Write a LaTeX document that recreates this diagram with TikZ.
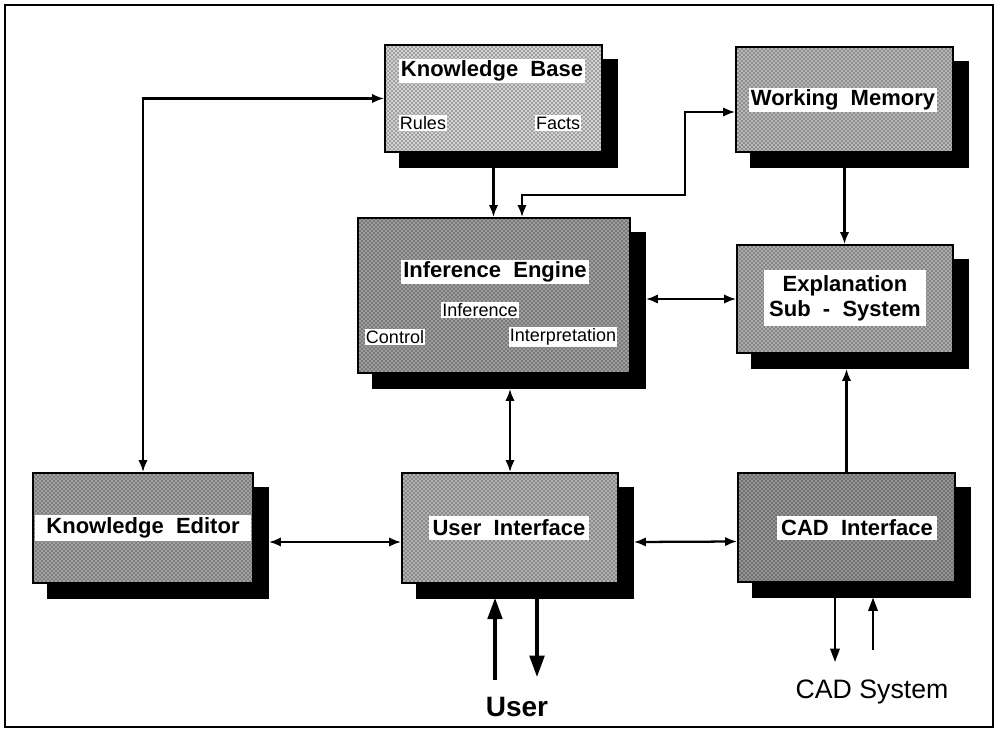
\documentclass[tikz,border=0pt]{standalone}
\usepackage{fontspec}
\setmainfont{Liberation Sans}
\usetikzlibrary{arrows.meta,patterns,backgrounds}
\begin{document}
\begin{tikzpicture}[x=0.75pt,y=-0.75pt,
  box/.style={draw=black,line width=1.3pt,preaction={fill=black!#1},pattern=crosshatch dots,pattern color=black,inner sep=0pt},
  box/.default=30,
  title/.style={fill=white,inner sep=1.5pt,font=\bfseries\fontsize{16.5}{19}\selectfont},
  sub/.style={fill=white,inner sep=1pt,font=\fontsize{13.5}{15}\selectfont},
  conn/.style={line width=1.7pt,-{Latex[length=9pt,width=7pt]}},
  conn2/.style={line width=1.7pt,{Latex[length=9pt,width=7pt]}-{Latex[length=9pt,width=7pt]}},
  big/.style={line width=2.4pt,-{Triangle[length=16pt,width=11pt]}},
  small/.style={line width=1.6pt,-{Triangle[length=10pt,width=7pt]}},
  lab/.style={inner sep=0pt}]
\useasboundingbox (0,0) rectangle (998,731);
\draw[line width=1.1pt] (5,5) rectangle (993,727);

% boxes
\node[box=18,minimum width=162.75pt,minimum height=80.25pt] (kb) at (493.5,98.5) {};
\node[box=28,minimum width=162.75pt,minimum height=78.75pt] (wm) at (844.5,99.5) {};
\node[box=38,minimum width=204pt,minimum height=116.25pt] (ie) at (494,295.5) {};
\node[box=32,minimum width=162pt,minimum height=81pt] (ex) at (845,299) {};
\node[box=36,minimum width=165pt,minimum height=82.5pt] (ke) at (143,528) {};
\node[box=30,minimum width=162pt,minimum height=82.5pt] (ui) at (510,528) {};
\node[box=42,minimum width=162.75pt,minimum height=81.75pt] (cad) at (846.5,527.5) {};

% shadows
\begin{scope}[on background layer]
\foreach \n in {kb,wm,ie,ex,ke,ui,cad}
  \fill[black] ([xshift=11.25pt,yshift=-11.25pt]\n.south west) rectangle ([xshift=11.25pt,yshift=-11.25pt]\n.north east);
\end{scope}

% texts
\node[title] (kbt) at (492,71) {Knowledge\ \ Base};
\node[sub] (kbr) at (423,123) {Rules};
\node[sub] (kbf) at (558,123) {Facts};
\node[title] (wmt) at (843,100) {Working\ \ Memory};
\node[title] (iet) at (495,272) {Inference\ \ Engine};
\node[sub] (iei) at (480,310) {Inference};
\node[sub] (iec) at (395,337) {Control};
\node[sub] (iep) at (563,337) {Interpretation};
\node[title,align=center,inner sep=4pt] (ext) at (845,298) {Explanation\\Sub\ \ -\ \ System};
\node[title,minimum width=162pt,inner sep=2pt] (ket) at (143,528) {Knowledge\ \ Editor};
\node[title,inner sep=3pt] (uit) at (509,528) {User\ \ Interface};
\node[title,inner sep=3pt] (cadt) at (857,528) {CAD\ \ Interface};
\node[lab,font=\bfseries\fontsize{21}{24}\selectfont] (user) at (517,707) {User};
\node[lab,font=\fontsize{20}{24}\selectfont] (cads) at (872,692) {CAD System};

% connectors
\draw[conn2] (kb.west) -| (ke.north);
\draw[conn] (kb.south) -- (kb.south |- ie.north);
\coordinate (j1) at (685,195);
\draw[conn2] ([xshift=21pt]ie.north) |- (j1) |- ([yshift=-9.375pt]wm.west);
\draw[conn] (wm.south) -- (wm.south |- ex.north);
\draw[conn2] ([xshift=11.25pt]ie.east |- ex.west) -- (ex.west);
\draw[conn2] ([yshift=-11.25pt]ie.south -| ui.north) -- (ui.north);
\draw[conn2] ([xshift=11.25pt,yshift=-10.5pt]ke.east) -- ([yshift=-10.5pt]ui.west);
\draw[conn2] ([xshift=11.25pt,yshift=-10.5pt]ui.east) -- ([yshift=-10.5pt]cad.west);
\draw[conn] (cad.north) -- ([yshift=-11.25pt]ex.south -| cad.north);

% user arrows
\coordinate (uin) at (495,680);
\coordinate (uout) at (537,677);
\draw[big] (uin) -- ([yshift=-10.5pt]ui.south -| uin);
\draw[big] ([yshift=-10.5pt]ui.south -| uout) -- (uout);

% CAD system arrows
\coordinate (cout) at (835,662);
\coordinate (cin) at (873,650);
\draw[small] ([yshift=-11pt]cad.south -| cout) -- (cout);
\draw[small] (cin) -- ([yshift=-11pt]cad.south -| cin);
\end{tikzpicture}
\end{document}
